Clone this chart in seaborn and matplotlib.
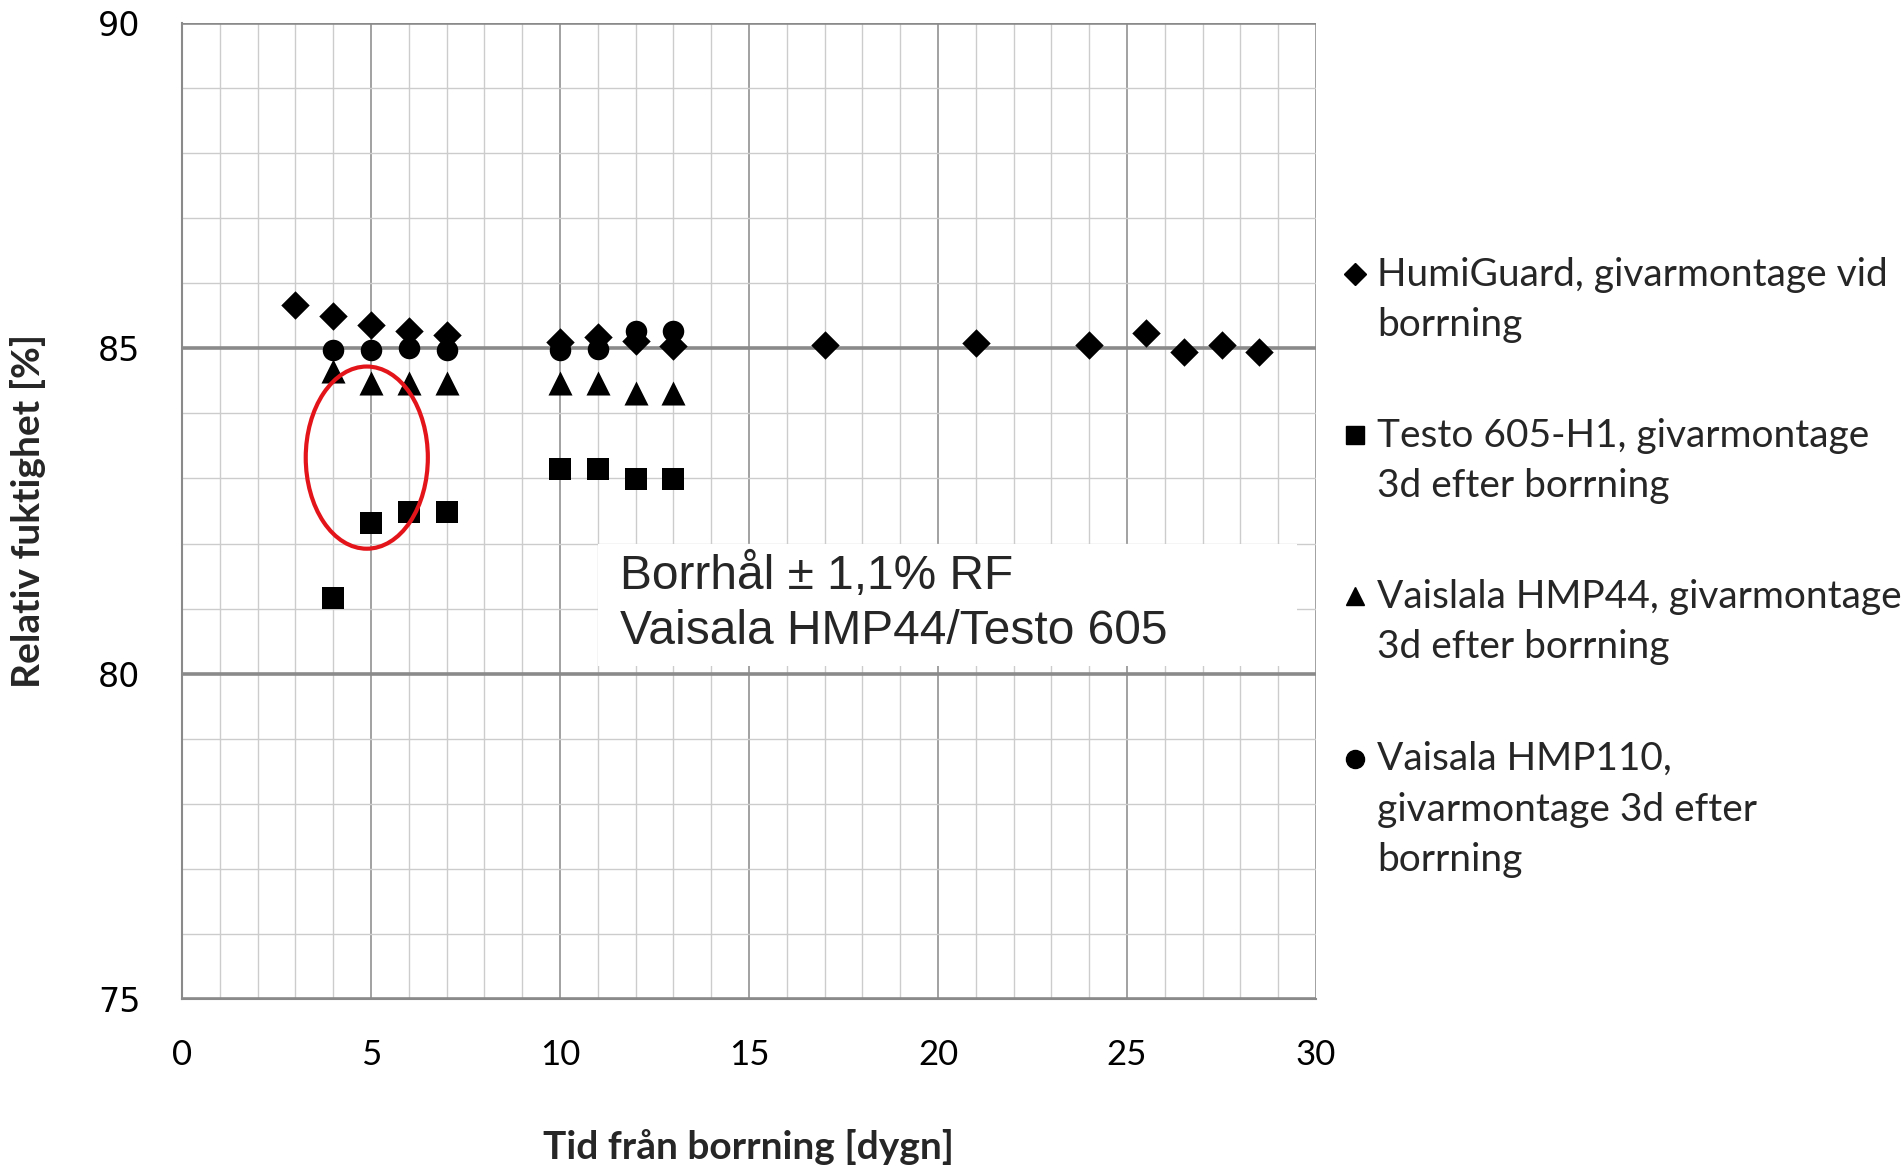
import matplotlib
matplotlib.use("Agg")
import matplotlib.pyplot as plt
from matplotlib.lines import Line2D
from matplotlib.patches import Ellipse, Rectangle
import pandas as pd
import seaborn as sns

# values
humi_x = [3, 4, 5, 6, 7, 10, 11, 12, 13, 17, 21, 24, 25.5, 26.5, 27.5, 28.5]
humi_y = [85.66, 85.50, 85.36, 85.26, 85.21, 85.10, 85.17, 85.12, 85.04,
          85.05, 85.08, 85.05, 85.24, 84.95, 85.05, 84.95]

testo_x = [4, 5, 6, 7, 10, 11, 12, 13]
testo_y = [81.16, 82.32, 82.49, 82.49, 83.14, 83.14, 82.99, 82.99]

hmp44_x = [4, 5, 6, 7, 10, 11, 12, 13]
hmp44_y = [84.65, 84.47, 84.47, 84.47, 84.47, 84.47, 84.32, 84.32]

hmp110_x = [4, 5, 6, 7, 10, 11, 12, 13]
hmp110_y = [84.98, 84.98, 85.00, 84.97, 84.97, 84.99, 85.26, 85.26]

legend_labels = [
    "HumiGuard, givarmontage vid\nborrning",
    "Testo 605-H1, givarmontage\n3d efter borrning",
    "Vaislala HMP44, givarmontage\n3d efter borrning",
    "Vaisala HMP110,\ngivarmontage 3d efter\nborrning",
]
x_ticks = [0, 5, 10, 15, 20, 25, 30]
y_ticks = [75, 80, 85, 90]
note_text = "Borrhål ± 1,1% RF\nVaisala HMP44/Testo 605"

sns.set_style("white")
plt.rcParams["font.family"] = ["Lato", "DejaVu Sans"]

series = [
    (humi_x, humi_y, "D", 210),
    (testo_x, testo_y, "s", 230),
    (hmp44_x, hmp44_y, "^", 300),
    (hmp110_x, hmp110_y, "o", 240),
]

fig = plt.figure(figsize=(19.01, 11.67), dpi=100)
ax = fig.add_axes([0.0957, 0.1440, 0.5966, 0.8363])

for xs, ys, m, s in series:
    df = pd.DataFrame({"x": xs, "y": ys})
    sns.scatterplot(data=df, x="x", y="y", marker=m, s=s, color="black",
                    linewidth=0, ax=ax, zorder=5)

ax.set_xlim(0, 30)
ax.set_ylim(75, 90)
ax.set_xticks(x_ticks)
ax.set_xticks(range(0, 31), minor=True)
ax.set_yticks(y_ticks)
ax.set_yticks(range(75, 91), minor=True)

# grid: light minor lines, heavier major ones
ax.grid(which="minor", color="#cccccc", linewidth=1.0)
ax.grid(which="major", axis="x", color="#9a9a9a", linewidth=1.3)
ax.grid(which="major", axis="y", color="#8a8a8a", linewidth=2.6)
ax.set_axisbelow(True)

for side in ["top", "right"]:
    ax.spines[side].set_visible(False)
for side in ["left", "bottom"]:
    ax.spines[side].set_color("#8a8a8a")
    ax.spines[side].set_linewidth(1.5)

ax.tick_params(which="major", direction="out", length=8, width=1.2,
               color="#8a8a8a", labelcolor="black")
ax.tick_params(which="minor", length=0)
ax.tick_params(axis="x", labelsize=25, pad=21)
ax.tick_params(axis="y", labelsize=24, pad=22)
for lab in ax.get_yticklabels():
    lab.set_family("DejaVu Sans")

ax.set_xlabel("Tid från borrning [dygn]", fontsize=28, fontweight="bold")
ax.set_ylabel("Relativ fuktighet [%]", fontsize=28, fontweight="bold")
ax.xaxis.set_label_coords(0.5, -0.133)
ax.yaxis.set_label_coords(-0.12, 0.5)

# white note box covering the grid
ax.add_patch(Rectangle((11.0, 80.12), 18.5, 1.88, facecolor="white",
                       edgecolor="none", zorder=3))
ax.text(11.6, 81.08, note_text, fontsize=34.5, family="Liberation Sans",
        va="center", ha="left", linespacing=1.3, zorder=4)

# red ellipse around the first testo readings
ax.add_patch(Ellipse((4.89, 83.32), 3.23, 2.80, fill=False,
                     edgecolor="#e3151a", linewidth=3.0, zorder=6))

# legend drawn at the right edge, running past the border like the original
leg_markers = ["D", "s", "^", "o"]
leg_sizes = [11, 13, 13, 13]
leg_y = [0.765, 0.627, 0.489, 0.350]
for lab, m, ms, yy in zip(legend_labels, leg_markers, leg_sizes, leg_y):
    fig.add_artist(Line2D([0.7128], [yy], marker=m, markersize=ms,
                          color="black", linestyle="none",
                          transform=fig.transFigure))
    fig.text(0.7245, yy + 0.015, lab, fontsize=28, va="top", ha="left",
             linespacing=1.5)

fig.savefig("out.png", dpi=100)
